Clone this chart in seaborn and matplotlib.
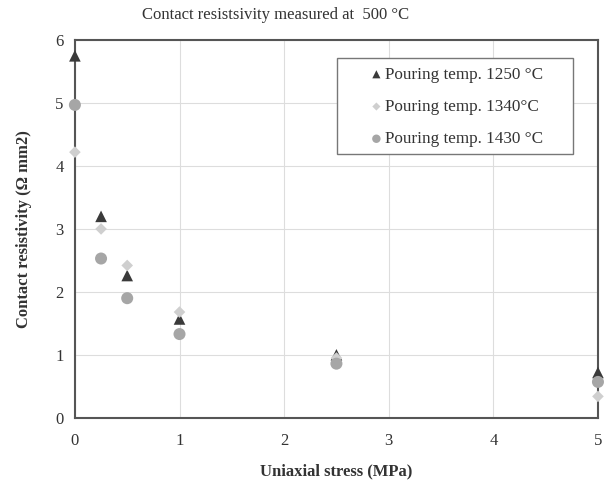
import matplotlib
matplotlib.use('Agg')
from matplotlib import pyplot as plt
from matplotlib.patches import Rectangle
import seaborn as sns
import pandas as pd

stress = [0, 0.25, 0.5, 1, 2.5, 5]
res_1250 = [5.75, 3.2, 2.26, 1.57, 1.0, 0.72]
res_1340 = [4.22, 3.0, 2.42, 1.68, 0.95, 0.34]
res_1430 = [4.97, 2.53, 1.9, 1.33, 0.86, 0.57]
labels = ['Pouring temp. 1250 °C', 'Pouring temp. 1340°C', 'Pouring temp. 1430 °C']

rows = []
for lab, vals in zip(labels, [res_1250, res_1340, res_1430]):
    for s, v in zip(stress, vals):
        rows.append({'stress': s, 'res': v, 'series': lab})
df = pd.DataFrame(rows)

sns.set_style('white')
plt.rcParams['font.family'] = ['Liberation Serif', 'DejaVu Serif']

fig = plt.figure(figsize=(6.04, 4.83), dpi=100)
ax = fig.add_axes([0.124, 0.135, 0.866, 0.782])

palette = {labels[0]: '#3a3a3a', labels[1]: '#cfcfcf', labels[2]: '#a6a6a6'}
markers = {labels[0]: '^', labels[1]: 'D', labels[2]: 'o'}
sizes = {labels[0]: 70, labels[1]: 35, labels[2]: 75}
for lab in labels:
    sub = df[df['series'] == lab]
    sns.scatterplot(data=sub, x='stress', y='res', color=palette[lab], marker=markers[lab],
                    s=sizes[lab], edgecolor='none', label=lab, ax=ax, clip_on=False, zorder=3)

ax.set_xlim(0, 5)
ax.set_ylim(0, 6)
ax.set_xticks(range(6))
ax.set_yticks(range(7))
ax.grid(True, color='#dddddd', linewidth=0.8)
for sp in ax.spines.values():
    sp.set_color('#555555')
    sp.set_linewidth(1.5)
ax.tick_params(axis='both', direction='in', length=3, color='#555555', labelsize=12, labelcolor='#333333')
ax.tick_params(axis='x', pad=11)
ax.tick_params(axis='y', pad=8)

ax.set_xlabel('Uniaxial stress (MPa)', fontsize=12, fontweight='bold', color='#333333', labelpad=10)
ax.set_ylabel('Contact resistivity (Ω mm2)', fontsize=12, fontweight='bold', color='#333333', labelpad=17)
fig.text(276 / 604, 1 - 15 / 483, 'Contact resistsivity measured at  500 °C', fontsize=12,
         color='#333333', ha='center', va='center')

# legend box drawn separately for the wide side padding
ax.add_patch(Rectangle((337 / 604, 1 - 154 / 483), 236 / 604, 96 / 483, transform=fig.transFigure,
                       facecolor='white', edgecolor='#777777', linewidth=1.0, zorder=4, clip_on=False))
leg = ax.legend(loc='center left', bbox_to_anchor=(361 / 604, 1 - 107 / 483),
                bbox_transform=fig.transFigure, frameon=False,
                fontsize=12.3, handletextpad=0.1, handlelength=0.8, labelspacing=0.95,
                borderpad=0, markerscale=0.7)
leg.set_zorder(5)
for t in leg.get_texts():
    t.set_color('#333333')

fig.savefig('out.png', dpi=100)
